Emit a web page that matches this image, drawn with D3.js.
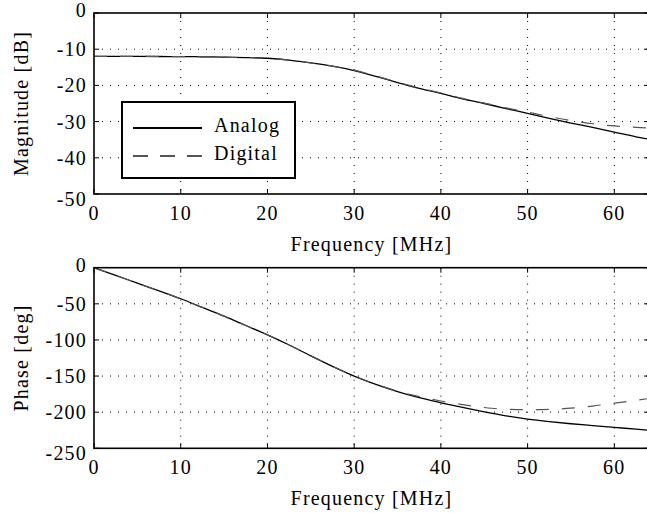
<!DOCTYPE html>
<html>
<head>
<meta charset="utf-8">
<script src="https://cdn.jsdelivr.net/npm/d3@7"></script>
<style>
  html, body { margin: 0; padding: 0; background: #fff; }
  svg { display: block; }
</style>
</head>
<body>
<svg id="chart" width="647" height="513"></svg>
<script>
// Frequency grid shared by all four responses (MHz)
const freqMHz = [0, 2.5, 5, 7.5, 10, 12.5, 15, 17.5, 20, 22.5, 25, 27.5, 30, 32.5,
                 35, 37.5, 40, 42.5, 45, 47.5, 50, 52.5, 55, 57.5, 60, 62.5, 64];

// Magnitude response [dB]
const magAnalog  = [-12.0, -12.0, -12.0, -12.02, -12.05, -12.1, -12.2, -12.3, -12.5, -13.0, -13.8, -14.7, -15.9, -17.5,
                    -19.2, -20.8, -22.2, -23.7, -25.0, -26.4, -27.7, -29.1, -30.4, -31.6, -32.9, -34.2, -34.9];
const magDigital = [-12.0, -12.0, -12.0, -12.02, -12.05, -12.1, -12.2, -12.3, -12.5, -13.0, -13.8, -14.7, -15.8, -17.4,
                    -19.1, -20.7, -22.1, -23.6, -24.9, -26.2, -27.4, -28.6, -29.7, -30.6, -31.2, -31.6, -31.8];

// Phase response [deg]
const phaseAnalog  = [0, -10.5, -21.5, -32, -43, -55, -67, -80, -93, -107, -122, -136.5, -150, -161.5,
                      -171.5, -180, -187, -193.5, -199.5, -205, -209.5, -213, -216, -218.5, -221, -223.5, -225];
const phaseDigital = [0, -10.5, -21.5, -32, -43, -55, -67, -80, -93, -107, -122, -136.5, -150, -161.3,
                      -171, -178.5, -184.5, -189.5, -193.5, -196, -196.5, -196, -194.5, -191.5, -187.5, -183.5, -181];

// Axis ticks
const freqTicks  = [0, 10, 20, 30, 40, 50, 60];
const magTicks   = [0, -10, -20, -30, -40, -50];
const phaseTicks = [0, -50, -100, -150, -200, -250];

const seriesNames = ["Analog", "Digital"];

const FONT = '"Liberation Serif", "Times New Roman", serif';
const svg = d3.select("#chart");
const x = d3.scaleLinear().domain([0, 64]).range([94, 649]);

function label(sel) {
  return sel.style("font-family", FONT).style("font-size", "20px")
    .style("letter-spacing", "1.2px").attr("fill", "#000");
}

function panel(top, bottom, yDomain, yTicks, yTitle, analog, digital) {
  const y = d3.scaleLinear().domain(yDomain).range([bottom, top]);
  const g = svg.append("g");
  const [x0, x1] = x.range();

  // dotted grid
  g.selectAll(".gx").data(freqTicks.filter(t => t > 0)).join("line")
    .attr("x1", d => x(d)).attr("x2", d => x(d)).attr("y1", top).attr("y2", bottom)
    .attr("stroke", "#000").attr("stroke-width", 1).attr("stroke-dasharray", "1,7");
  g.selectAll(".gy").data(yTicks.filter(t => t !== yDomain[0] && t !== yDomain[1])).join("line")
    .attr("x1", x0).attr("x2", x1).attr("y1", d => y(d)).attr("y2", d => y(d))
    .attr("stroke", "#000").attr("stroke-width", 1).attr("stroke-dasharray", "1,7");

  // inward ticks on all four sides
  const tl = 5;
  freqTicks.forEach(t => {
    g.append("line").attr("x1", x(t)).attr("x2", x(t)).attr("y1", bottom).attr("y2", bottom - tl).attr("stroke", "#000");
    g.append("line").attr("x1", x(t)).attr("x2", x(t)).attr("y1", top).attr("y2", top + tl).attr("stroke", "#000");
  });
  yTicks.forEach(t => {
    g.append("line").attr("x1", x0).attr("x2", x0 + tl).attr("y1", y(t)).attr("y2", y(t)).attr("stroke", "#000");
    g.append("line").attr("x1", x1).attr("x2", x1 - tl).attr("y1", y(t)).attr("y2", y(t)).attr("stroke", "#000");
  });

  // curves
  const line = d3.line().x((d, i) => x(freqMHz[i])).y(d => y(d)).curve(d3.curveMonotoneX);
  g.append("path").datum(analog).attr("d", line)
    .attr("fill", "none").attr("stroke", "#000").attr("stroke-width", 1.3);
  g.append("path").datum(digital).attr("d", line)
    .attr("fill", "none").attr("stroke", "#555").attr("stroke-width", 1.2).attr("stroke-dasharray", "13,13");

  // frame
  g.append("rect").attr("x", x0).attr("y", top).attr("width", x1 - x0).attr("height", bottom - top)
    .attr("fill", "none").attr("stroke", "#000").attr("stroke-width", 1.6);

  // tick labels
  g.selectAll(".xl").data(freqTicks).join("text")
    .attr("x", d => x(d)).attr("y", bottom + 26).attr("text-anchor", "middle").text(d => d)
    .call(label);
  g.selectAll(".yl").data(yTicks).join("text")
    .attr("x", 87).attr("y", d => y(d) + (d === yDomain[1] ? -3 : d === yDomain[0] ? 5 : 0))
    .attr("dy", "0.35em").attr("text-anchor", "end").text(d => d)
    .call(label);

  // titles
  g.append("text").attr("x", (x0 + x1) / 2).attr("y", bottom + 57).attr("text-anchor", "middle")
    .text("Frequency [MHz]").call(label);
  g.append("text").attr("transform", `translate(28,${(top + bottom) / 2}) rotate(-90)`)
    .attr("text-anchor", "middle").text(yTitle).call(label);
  return y;
}

panel(13, 194, [-50, 0], magTicks, "Magnitude [dB]", magAnalog, magDigital);
panel(267.7, 448.3, [-250, 0], phaseTicks, "Phase [deg]", phaseAnalog, phaseDigital);

// legend in the magnitude panel
const lg = svg.append("g");
lg.append("rect").attr("x", 122).attr("y", 102).attr("width", 173).attr("height", 76)
  .attr("fill", "#fff").attr("stroke", "#000").attr("stroke-width", 2);
const legendStyles = [
  { stroke: "#000", dash: null, w: 2, y: 128 },
  { stroke: "#555", dash: "15,12", w: 1.8, y: 156 }
];
seriesNames.forEach((name, i) => {
  const s = legendStyles[i];
  lg.append("line").attr("x1", 133).attr("x2", 202).attr("y1", s.y).attr("y2", s.y)
    .attr("stroke", s.stroke).attr("stroke-width", s.w).attr("stroke-dasharray", s.dash);
  lg.append("text").attr("x", 214).attr("y", s.y + 3.5).text(name).call(label);
});
</script>
</body>
</html>
